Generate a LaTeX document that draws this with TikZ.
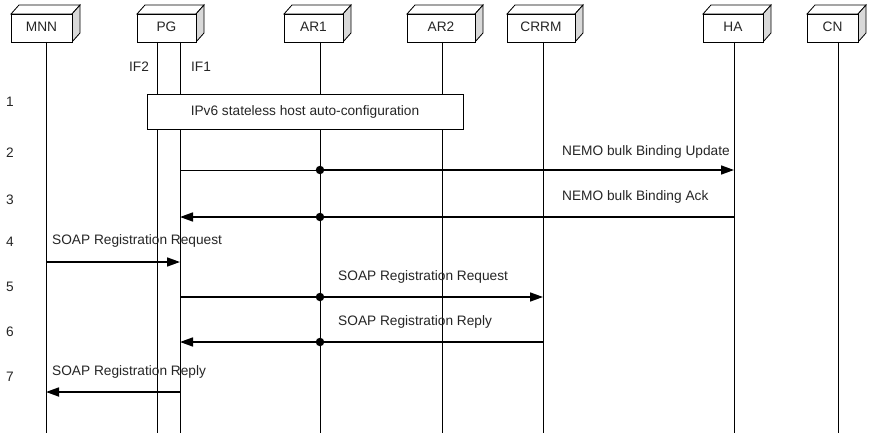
\documentclass[tikz,border=0pt]{standalone}
\usepackage{fontspec}
\setmainfont{Liberation Sans}
\usetikzlibrary{arrows.meta}
\begin{document}
\begin{tikzpicture}[x=1pt,y=-1pt,
  txt/.style={font=\fontsize{13.7}{15}\selectfont, text=black!85, inner sep=0pt},
  lifeline/.style={line width=0.9pt},
  msg/.style={line width=1.7pt, -{Triangle[length=13pt,width=9pt]}},
  thinmsg/.style={line width=1pt},
  relay/.style={fill=black, circle, inner sep=0pt, minimum size=8.5pt}
]
\useasboundingbox (0,0) rectangle (870,433);
\fill[white] (0,0) rectangle (870,433);

% 3-D entity box: #1 name, #2 left, #3 right, #4 label
\newcommand{\entity}[4]{%
  \draw[line width=0.8pt, fill=white] (#2,14) -- (#2+8,5) -- (#3+8,5) -- (#3,14) -- cycle;
  \draw[line width=0.8pt, fill=black!15] (#3,14) -- (#3+8,5) -- (#3+8,33) -- (#3,42) -- cycle;
  \draw[line width=0.8pt, fill=white] (#2,14) rectangle (#3,42);
  \node[txt] (#1) at ({(#2+#3)/2},27) {#4};
}

\entity{mnn}{11}{72}{MNN}
\entity{pg}{137}{196}{PG}
\entity{arone}{284}{343}{AR1}
\entity{artwo}{407}{475}{AR2}
\entity{crrm}{507}{575}{CRRM}
\entity{ha}{703}{763}{HA}
\entity{cn}{807}{858}{CN}

% lifelines
\foreach \n/\x in {mnn/46, iftwo/157, ifone/180, arone/320, artwo/442, crrm/543, ha/734, cn/838} {
  \coordinate (\n-top) at (\x,42);
  \coordinate (\n-bot) at (\x,433);
  \draw[lifeline] (\n-top) -- (\n-bot);
}

\node[txt] (lbl-iftwo) at (139,67) {IF2};
\node[txt] (lbl-ifone) at (201,67) {IF1};

% step numbers
\foreach \i/\y in {1/102, 2/153, 3/200, 4/242, 5/287, 6/332, 7/377}
  \node[txt] (step\i) at (10,\y) {\i};

% step 1
\node[draw, line width=0.8pt, fill=white, minimum width=316pt, minimum height=35pt,
      inner sep=0pt, font=\fontsize{13.7}{15}\selectfont, text=black!85]
      (autoconf) at (305,111.5) {IPv6 stateless host auto-configuration};

% message end points
\foreach \n/\x in {mnn/46, ifone/180, arone/320, crrm/543, ha/734} {
  \foreach \k/\y in {2/170, 3/217, 4/262, 5/297, 6/342, 7/392}
    \coordinate (\n-m\k) at (\x,\y);
}

% step 2
\draw[thinmsg] (ifone-m2) -- (arone-m2);
\draw[msg] (arone-m2) -- (ha-m2);
\node[relay] (dot2) at (arone-m2) {};
\node[txt, anchor=west] (lbl2) at (562,152) {NEMO bulk Binding Update};

% step 3
\draw[msg] (ha-m3) -- (ifone-m3);
\node[relay] (dot3) at (arone-m3) {};
\node[txt, anchor=west] (lbl3) at (562,197) {NEMO bulk Binding Ack};

% step 4
\draw[msg] (mnn-m4) -- (ifone-m4);
\node[txt, anchor=west] (lbl4) at (52,241) {SOAP Registration Request};

% step 5
\draw[msg] (ifone-m5) -- (crrm-m5);
\node[relay] (dot5) at (arone-m5) {};
\node[txt, anchor=west] (lbl5) at (338,277) {SOAP Registration Request};

% step 6
\draw[msg] (crrm-m6) -- (ifone-m6);
\node[relay] (dot6) at (arone-m6) {};
\node[txt, anchor=west] (lbl6) at (338,322) {SOAP Registration Reply};

% step 7
\draw[msg] (ifone-m7) -- (mnn-m7);
\node[txt, anchor=west] (lbl7) at (52,372) {SOAP Registration Reply};
\end{tikzpicture}
\end{document}
